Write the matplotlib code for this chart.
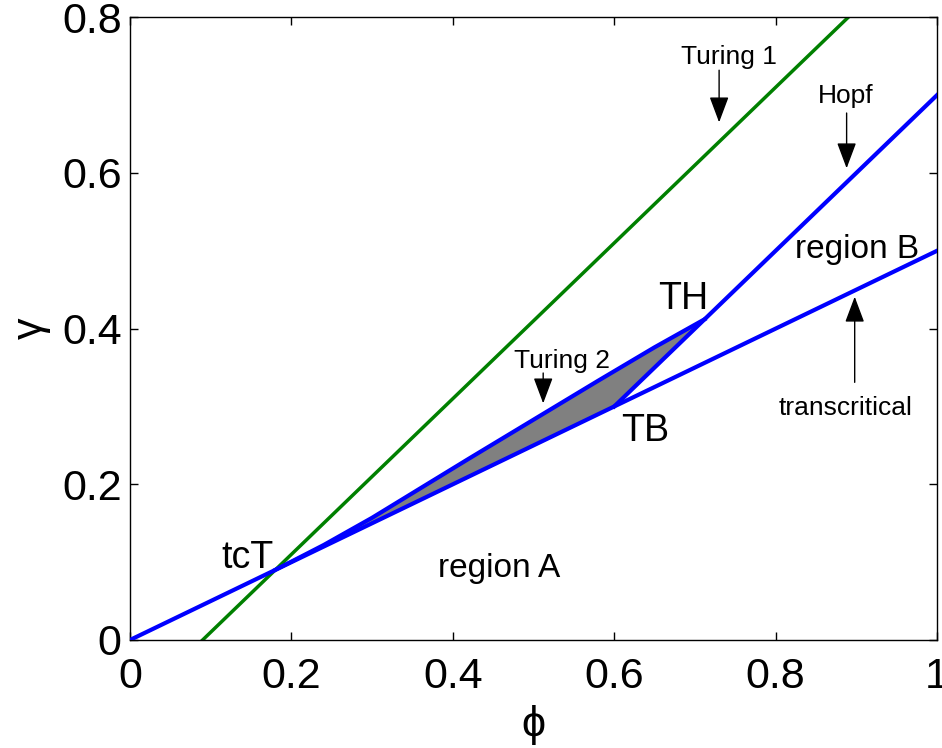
import matplotlib
matplotlib.use("Agg")
import matplotlib.pyplot as plt

# -----------------------------------
# Data
# -----------------------------------
trans_phi = [0.0, 1.0]
trans_gamma = [0.0, 0.5]

hopf_phi = [0.6, 1.0]
hopf_gamma = [0.3, 0.7]

turing1_phi = [0.09, 0.89]
turing1_gamma = [0.0, 0.8]

turing2_phi = [0.18, 0.24, 0.30, 0.36, 0.42, 0.50, 0.58, 0.65, 0.712]
turing2_gamma = [0.090, 0.122, 0.157, 0.195, 0.233, 0.283, 0.333, 0.376, 0.412]

tb_point = (0.6, 0.3)
tct_point = (0.18, 0.09)

x_ticks = [0, 0.2, 0.4, 0.6, 0.8, 1]
x_tick_labels = ["0", "0.2", "0.4", "0.6", "0.8", "1"]
y_ticks = [0, 0.2, 0.4, 0.6, 0.8]
y_tick_labels = ["0", "0.2", "0.4", "0.6", "0.8"]

FONT = ["Liberation Sans", "DejaVu Sans"]
plt.rcParams["font.family"] = FONT

BLUE = "#0000ff"
GREEN = "#008000"

fig = plt.figure(figsize=(9.42, 7.48), dpi=100)
ax = fig.add_axes([0.138, 0.1444, 0.8567, 0.8325])

# gray Turing-2 region: upper curve, then TB, back to tcT
fill_phi = turing2_phi + [tb_point[0], tct_point[0]]
fill_gamma = turing2_gamma + [tb_point[1], tct_point[1]]
ax.fill(fill_phi, fill_gamma, facecolor="#808080", edgecolor="black", linewidth=1, zorder=1)

ax.plot(turing1_phi, turing1_gamma, color=GREEN, linewidth=2.5, zorder=2)
ax.plot(trans_phi, trans_gamma, color=BLUE, linewidth=3, zorder=3)
ax.plot(hopf_phi, hopf_gamma, color=BLUE, linewidth=3, zorder=3)
ax.plot(turing2_phi, turing2_gamma, color=BLUE, linewidth=3, zorder=3,
        solid_joinstyle="round")

ax.set_xlim(0, 1)
ax.set_ylim(0, 0.8)
ax.set_xticks(x_ticks)
ax.set_xticklabels(x_tick_labels)
ax.set_yticks(y_ticks)
ax.set_yticklabels(y_tick_labels)
ax.tick_params(direction="in", length=5.5, width=1, labelsize=31,
               top=True, right=True)
ax.tick_params(axis="x", pad=12)
ax.tick_params(axis="y", pad=6)
for s in ax.spines.values():
    s.set_linewidth(1)

ax.set_xlabel("ϕ", fontsize=31, labelpad=6)
ax.set_ylabel("γ", fontsize=31, labelpad=8)

# region labels
ax.text(0.458, 0.092, "region A", fontsize=24, ha="center", va="center")
ax.text(0.901, 0.502, "region B", fontsize=24, ha="center", va="center")
ax.text(0.685, 0.438, "TH", fontsize=27, ha="center", va="center")
ax.text(0.638, 0.268, "TB", fontsize=27, ha="center", va="center")
ax.text(0.146, 0.105, "tcT", fontsize=27, ha="center", va="center")

# annotated curves with arrows
arrow = dict(arrowstyle="-|>,head_length=0.8,head_width=0.3", color="black",
             linewidth=1, shrinkA=0, shrinkB=0, mutation_scale=20)
ax.text(0.742, 0.749, "Turing 1", fontsize=19, ha="center", va="center")
ax.annotate("", xy=(0.730, 0.665), xytext=(0.730, 0.732), arrowprops=arrow)
ax.text(0.887, 0.699, "Hopf", fontsize=19, ha="center", va="center")
ax.annotate("", xy=(0.888, 0.606), xytext=(0.888, 0.677), arrowprops=arrow)
ax.text(0.887, 0.298, "transcritical", fontsize=19, ha="center", va="center")
ax.annotate("", xy=(0.898, 0.441), xytext=(0.898, 0.331), arrowprops=arrow)
ax.text(0.535, 0.358, "Turing 2", fontsize=19, ha="center", va="center")
ax.annotate("", xy=(0.512, 0.304), xytext=(0.512, 0.343), arrowprops=arrow)

fig.savefig("out.png", dpi=100)
